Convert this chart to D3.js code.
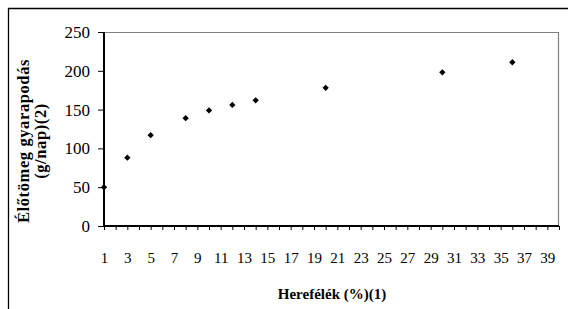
<!DOCTYPE html>
<html>
<head>
<meta charset="utf-8">
<script src="https://cdn.jsdelivr.net/npm/d3@7"></script>
<style>
  body { margin: 0; background: #fff; }
  svg text { font-family: "Liberation Serif", "Times New Roman", serif; fill: #000; }
</style>
</head>
<body>
<div id="chart"></div>
<script>
// chart area
var svgWidth = 568;
var svgHeight = 309;

var margin = { top: 32, right: 9, bottom: 83, left: 104 };
var width = svgWidth - margin.left - margin.right;
var height = svgHeight - margin.top - margin.bottom;

// data
var herefelek = [1, 3, 5, 8, 10, 12, 14, 20, 30, 36];
var gyarapodas = [50, 88, 117, 139, 149, 156, 162, 178, 198, 211];
var yTicks = [0, 50, 100, 150, 200, 250];
var xTickLabels = d3.range(1, 40, 2);

var svg = d3.select("#chart")
  .append("svg")
  .attr("width", svgWidth)
  .attr("height", svgHeight);

// outer frame (only top and left edges are visible)
svg.append("path")
  .attr("d", "M8.5,309 V8.5 H568")
  .attr("fill", "none")
  .attr("stroke", "#000")
  .attr("stroke-width", 1.3);

var chartGroup = svg.append("g")
  .attr("transform", `translate(${margin.left}, ${margin.top})`);

var x = d3.scaleLinear().domain([1, 40]).range([0, width]);
var y = d3.scaleLinear().domain([0, 250]).range([height, 0]);

// plot area border (grey top/right)
chartGroup.append("path")
  .attr("d", `M0,0.5 H${width - 0.5} V${height}`)
  .attr("fill", "none")
  .attr("stroke", "#808080")
  .attr("stroke-width", 1.2);

// y axis
var leftAxis = d3.axisLeft(y).tickValues(yTicks).tickSize(6).tickPadding(8);
var gy = chartGroup.append("g").call(leftAxis);
gy.attr("font-family", null);
gy.select(".domain").attr("stroke-width", 2).attr("d", `M0,0 V${height}`);
gy.selectAll(".tick line").attr("stroke-width", 1);
gy.selectAll("text")
  .style("font-family", "'Liberation Serif', serif")
  .style("font-size", "17px");

// x axis: minor ticks every 1, labels every 2
var bottomAxis = d3.axisBottom(x).tickValues(d3.range(1, 41)).tickSize(4).tickPadding(22)
  .tickFormat(d => xTickLabels.includes(d) ? d : "");
var gx = chartGroup.append("g")
  .attr("transform", `translate(0, ${height})`)
  .call(bottomAxis);
gx.attr("font-family", null);
gx.select(".domain").attr("stroke-width", 2).attr("d", `M0,0 H${width}`);
gx.selectAll("text")
  .style("font-family", "'Liberation Serif', serif")
  .style("font-size", "15px");

// points
chartGroup.selectAll(".pt")
  .data(herefelek)
  .enter()
  .append("path")
  .attr("class", "pt")
  .attr("d", d3.symbol(d3.symbolSquare, 20))
  .attr("transform", (d, i) => `translate(${x(d)}, ${y(gyarapodas[i])}) rotate(45)`)
  .attr("fill", "#000");

// axis titles
var yTitle = svg.append("text")
  .attr("transform", "translate(35, 141) rotate(-90)")
  .attr("text-anchor", "middle")
  .attr("font-weight", "bold")
  .attr("font-size", "16.5px")
  .attr("letter-spacing", "0.6px");
yTitle.append("tspan").attr("x", 0).attr("dy", -6).text("Élőtömeg gyarapodás");
yTitle.append("tspan").attr("x", 0).attr("dy", 17).text("(g/nap)(2)");

svg.append("text")
  .attr("x", 332)
  .attr("y", 299)
  .attr("text-anchor", "middle")
  .attr("font-weight", "bold")
  .attr("font-size", "15px")
  .text("Herefélék (%)(1)");
</script>
</body>
</html>
